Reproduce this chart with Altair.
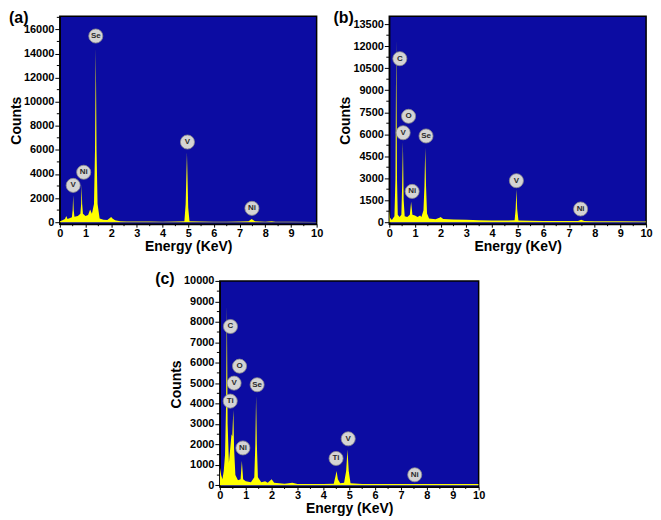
import altair as alt
import pandas as pd

# ---------------- data ----------------
A_E = [0.00, 0.10, 0.20, 0.25, 0.30, 0.40, 0.47, 0.50, 0.52, 0.54, 0.57, 0.70, 0.80, 0.83, 0.85, 0.87, 0.90,
       1.00, 1.10, 1.18, 1.25, 1.33, 1.37, 1.40, 1.43, 1.47, 1.55, 1.70, 1.85, 1.95, 2.00, 2.05, 2.15, 2.25,
       2.35, 2.60, 3.00, 3.50, 4.00, 4.50, 4.85, 4.90, 4.95, 5.00, 5.05, 5.50, 6.00, 6.50, 7.00, 7.35, 7.47,
       7.60, 8.00, 8.25, 8.40, 9.00, 10.00]
A_C = [50, 150, 250, 500, 250, 350, 400, 1000, 2250, 1000, 450, 500, 700, 1500, 3150, 1500, 700,
       500, 600, 1050, 700, 1500, 6000, 14500, 6000, 1500, 300, 200, 180, 350, 420, 300, 150, 120,
       80, 60, 50, 50, 40, 50, 80, 1500, 5800, 1200, 80, 50, 40, 40, 50, 80, 250,
       80, 40, 80, 30, 30, 20]

B_E = [0.00, 0.03, 0.10, 0.20, 0.24, 0.27, 0.30, 0.33, 0.40, 0.47, 0.50, 0.53, 0.56, 0.60, 0.70, 0.80, 0.85,
       0.90, 1.00, 1.10, 1.20, 1.25, 1.33, 1.37, 1.40, 1.43, 1.47, 1.55, 1.80, 1.95, 2.00, 2.10, 2.50, 3.00,
       3.50, 4.00, 4.50, 4.88, 4.92, 4.95, 4.98, 5.03, 5.50, 6.00, 6.50, 7.00, 7.35, 7.47, 7.60, 8.00, 9.00,
       10.00]
B_C = [900, 300, 150, 400, 3000, 12500, 3000, 500, 350, 500, 2500, 5500, 1500, 400, 350, 500, 1400,
       500, 450, 350, 450, 350, 800, 2500, 5100, 2500, 600, 250, 200, 300, 350, 220, 180, 160,
       140, 120, 110, 130, 900, 2250, 900, 120, 100, 90, 80, 80, 90, 160, 80, 70, 60,
       50]

C_E = [0.00, 0.05, 0.10, 0.15, 0.20, 0.24, 0.27, 0.30, 0.35, 0.40, 0.45, 0.48, 0.52, 0.55, 0.60, 0.70, 0.80,
       0.85, 0.90, 1.00, 1.20, 1.33, 1.37, 1.40, 1.43, 1.47, 1.60, 1.75, 1.85, 2.00, 2.10, 2.50, 2.80, 3.00,
       3.50, 4.00, 4.40, 4.47, 4.51, 4.56, 4.65, 4.80, 4.88, 4.93, 4.98, 5.05, 5.50, 6.00, 6.50, 7.00, 7.50,
       8.00, 9.00, 10.00]
C_C = [900, 500, 300, 700, 1500, 4000, 8800, 3000, 1100, 1800, 2500, 2400, 3700, 1800, 500, 250, 300,
       1200, 300, 200, 150, 400, 2000, 4400, 2000, 400, 150, 200, 120, 300, 120, 80, 120, 60,
       60, 60, 80, 450, 700, 300, 100, 120, 700, 1750, 700, 100, 70, 60, 70, 60, 70,
       60, 70, 60]

# element labels: energy, count position, text
A_LE = [1.40, 0.52, 0.93, 4.97, 7.48]
A_LC = [15450, 3050, 4140, 6650, 1145]
A_LT = ["Se", "V", "Ni", "V", "Ni"]

B_LE = [0.41, 0.75, 0.54, 1.43, 0.89, 4.95, 7.45]
B_LC = [11150, 7220, 6100, 5880, 2100, 2830, 900]
B_LT = ["C", "O", "V", "Se", "Ni", "V", "Ni"]

C_LE = [0.41, 0.76, 0.55, 0.40, 1.44, 0.89, 4.49, 4.96, 7.53]
C_LC = [7770, 5830, 5000, 4120, 4920, 1830, 1315, 2275, 515]
C_LT = ["C", "O", "V", "Ti", "Se", "Ni", "Ti", "V", "Ni"]

# axis ticks
X_MAJOR = [0, 1, 2, 3, 4, 5, 6, 7, 8, 9, 10]
X_MINOR = [0.5, 1.5, 2.5, 3.5, 4.5, 5.5, 6.5, 7.5, 8.5, 9.5]
A_YMAJOR = [0, 2000, 4000, 6000, 8000, 10000, 12000, 14000, 16000]
A_YMINOR = [1000, 3000, 5000, 7000, 9000, 11000, 13000, 15000, 17000]
B_YMAJOR = [0, 1500, 3000, 4500, 6000, 7500, 9000, 10500, 12000, 13500]
B_YMINOR = [750, 2250, 3750, 5250, 6750, 8250, 9750, 11250, 12750]
C_YMAJOR = [0, 1000, 2000, 3000, 4000, 5000, 6000, 7000, 8000, 9000, 10000]
C_YMINOR = [500, 1500, 2500, 3500, 4500, 5500, 6500, 7500, 8500, 9500]

BLUE = "#0c0ca2"
YELLOW = "#ffff00"
FONT = "Liberation Sans"


def panel(E, C, LE, LC, LT, letter, ydom, ymaj, ymin, lx, ly, w, h, right_pad=None):
    spec = pd.DataFrame({"E": E, "C": C})
    labs = pd.DataFrame({"E": LE, "C": LC, "T": LT})
    xax = alt.Axis(
        values=X_MAJOR, title="Energy (KeV)", labelOverlap=False, labelSeparation=0,
        labelFlush=False, format="d", tickSize=3, labelPadding=0, titlePadding=1,
    )
    yax = alt.Axis(
        values=ymaj, title="Counts", labelOverlap=False, labelSeparation=0,
        format="d", tickSize=5, labelPadding=1, titlePadding=0,
    )
    xs = alt.Scale(domain=[0, 10], nice=False, zero=False)
    ys = alt.Scale(domain=ydom, nice=False, zero=False)
    X = alt.X("E:Q", scale=xs, axis=xax, title="Energy (KeV)")
    Y = alt.Y("C:Q", scale=ys, axis=yax, title="Counts")
    area = alt.Chart(spec).mark_area(color=YELLOW, clip=True, interpolate="linear").encode(x=X, y=Y)
    xmin = alt.Chart(pd.DataFrame({"E": X_MINOR})).mark_rule(color="black", strokeWidth=1).encode(
        x=X, y=alt.value(h), y2=alt.value(h + 2)
    )
    ymn = alt.Chart(pd.DataFrame({"C": ymin})).mark_rule(color="black", strokeWidth=1).encode(
        y=Y, x=alt.value(-3), x2=alt.value(0)
    )
    circ = alt.Chart(labs).mark_point(
        shape="circle", filled=True, fill="#d4d4d4", stroke="#8c8c8c", strokeWidth=0.8,
        size=200, opacity=1,
    ).encode(x=X, y=Y)
    txt = alt.Chart(labs).mark_text(
        fontSize=8, fontWeight="bold", color="#2a2a2a", font=FONT
    ).encode(x=X, y=Y, text="T:N")
    let = alt.Chart(pd.DataFrame({"t": [letter]})).mark_text(
        align="left", baseline="top", fontSize=16, fontWeight="bold", font=FONT, color="black"
    ).encode(text="t:N", x=alt.value(lx), y=alt.value(ly))
    layers = [area, xmin, ymn, circ, txt, let]
    if right_pad is not None:
        # invisible spacer so that the centred bottom panel sits where the reference has it
        sp = alt.Chart(pd.DataFrame({"t": [letter]})).mark_text(
            align="left", baseline="top", fontSize=16, fontWeight="bold", font=FONT, opacity=0
        ).encode(text="t:N", x=alt.value(w + right_pad), y=alt.value(h / 2))
        layers.append(sp)
    return alt.layer(*layers).properties(width=w, height=h)


pa = panel(A_E, A_C, A_LE, A_LC, A_LT, "(a)", [-170, 17100], A_YMAJOR, A_YMINOR, -51, -6, 258, 209)
pb = panel(B_E, B_C, B_LE, B_LC, B_LT, "(b)", [-135, 14050], B_YMAJOR, B_YMINOR, -56, -6, 258, 209)
pc = panel(C_E, C_C, C_LE, C_LC, C_LT, "(c)", [-80, 10000], C_YMAJOR, C_YMINOR, -65, -10, 260, 207,
           right_pad=-6)

top = alt.hconcat(pa, pb, spacing=9)
chart = alt.vconcat(top, pc, spacing=16, center=True).properties(
    padding={"left": 0, "top": 0, "right": 0, "bottom": 0}
).configure_view(
    fill=BLUE, stroke="black", strokeWidth=1.5
).configure_axis(
    grid=False, labelFont=FONT, labelFontSize=11, labelFontWeight="bold", labelColor="black",
    titleFont=FONT, titleFontSize=14, titleFontWeight="bold", titleColor="black",
    domainColor="black", domainWidth=1.2, tickColor="black", tickWidth=1, labelOverlap=False,
)

chart.save("out.html", embed_options={"renderer": "svg", "actions": False})
